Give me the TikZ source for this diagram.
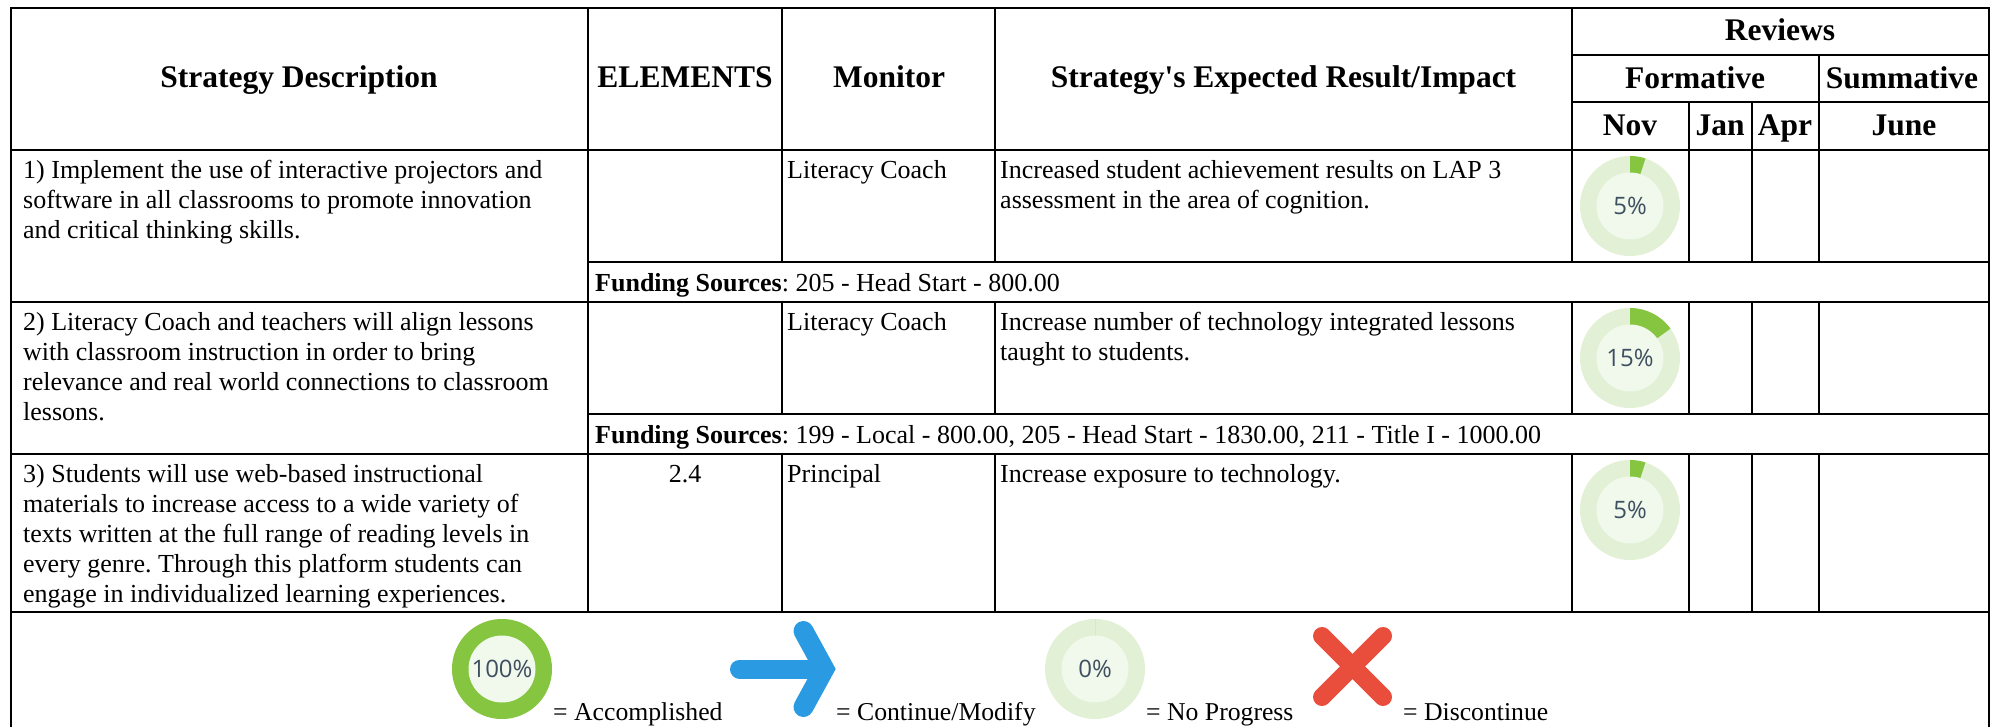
\documentclass[tikz,border=0pt]{standalone}
\usepackage{fontspec}
\setmainfont{Liberation Serif}
\newfontfamily\ringfont{Open Sans}
\frenchspacing
\definecolor{ringpale}{HTML}{E2F0D5}
\definecolor{ringcore}{HTML}{F1F8EC}
\definecolor{ringgreen}{HTML}{86C540}
\definecolor{ringtext}{HTML}{3E4F60}
\definecolor{arrowblue}{HTML}{2A9AE2}
\definecolor{crossred}{HTML}{E94E3D}
\newcommand{\ts}{\rule{0pt}{20pt}}
\tikzset{
  x=1pt,y=-1pt,
  rule/.style={line width=2.6pt,black,line cap=rect},
  body/.style={anchor=north west,inner sep=0pt,align=left,font=\fontsize{26}{30}\selectfont},
  bodyc/.style={anchor=base,inner sep=0pt,font=\fontsize{26}{30}\selectfont},
  head/.style={anchor=base,inner sep=0pt,font=\fontsize{31.5}{36}\selectfont\bfseries},
  legend/.style={anchor=base west,inner sep=0pt,font=\fontsize{25.7}{30}\selectfont},
  ringlabel/.style={inner sep=0pt,text=ringtext,font=\fontsize{24}{28}\ringfont},
}
\newcommand{\ring}[4]{% name, x, y, percent
  \fill[ringpale] (#2,#3) circle[radius=50];
  \fill[ringgreen] (#2,#3) -- ++(270:50) arc[start angle=270,delta angle=3.6*#4,radius=50] -- cycle;
  \fill[ringcore] (#2,#3) circle[radius=33.5];
  \node[ringlabel] (#1) at (#2,#3) {#4\%};
}
\begin{document}
\begin{tikzpicture}
\useasboundingbox (0,0) rectangle (1997,727);
% outer and horizontal rules
\draw[rule] (11,727) -- (11,8) -- (1989,8) -- (1989,727);
\draw[rule] (11,150) -- (1989,150);
\draw[rule] (1572,55) -- (1989,55);
\draw[rule] (1572,102) -- (1989,102);
\draw[rule] (588,262) -- (1989,262);
\draw[rule] (11,302) -- (1989,302);
\draw[rule] (588,414) -- (1989,414);
\draw[rule] (11,454) -- (1989,454);
\draw[rule] (11,612) -- (1989,612);
% vertical rules
\draw[rule] (588,8) -- (588,612);
\foreach \cx in {782,995,1572}{
  \draw[rule] (\cx,8) -- (\cx,262);
  \draw[rule] (\cx,302) -- (\cx,414);
  \draw[rule] (\cx,454) -- (\cx,612);
}
\foreach \cx in {1689,1752}{
  \draw[rule] (\cx,102) -- (\cx,262);
  \draw[rule] (\cx,302) -- (\cx,414);
  \draw[rule] (\cx,454) -- (\cx,612);
}
\draw[rule] (1819,55) -- (1819,262);
\draw[rule] (1819,302) -- (1819,414);
\draw[rule] (1819,454) -- (1819,612);
% header
\node[head] (hstrategy) at (299,88) {Strategy Description};
\node[head] (helements) at (685,88) {ELEMENTS};
\node[head] (hmonitor) at (889,88) {Monitor};
\node[head] (hresult) at (1283.5,88) {Strategy\textquotesingle s Expected Result/Impact};
\node[head] (hreviews) at (1780,41) {Reviews};
\node[head] (hformative) at (1695,89) {Formative};
\node[head] (hsummative) at (1902,89) {Summative};
\node[head] (hnov) at (1630,136) {Nov};
\node[head] (hjan) at (1720,136) {Jan};
\node[head] (hapr) at (1785,136) {Apr};
\node[head] (hjune) at (1904,136) {June};
% row 1
\node[body] (s1) at (23,158) {\ts 1) Implement the use of interactive projectors and\\software in all classrooms to promote innovation\\and critical thinking skills.};
\node[body] (m1) at (787,158) {\ts Literacy Coach};
\node[body] (r1) at (1000,158) {\ts Increased student achievement results on LAP 3\\assessment in the area of cognition.};
\ring{p1}{1630}{206}{5}
\node[body] (f1) at (595,271) {\ts\textbf{Funding Sources}: 205 - Head Start - 800.00};
% row 2
\node[body] (s2) at (23,310) {\ts 2) Literacy Coach and teachers will align lessons\\with classroom instruction in order to bring\\relevance and real world connections to classroom\\lessons.};
\node[body] (m2) at (787,310) {\ts Literacy Coach};
\node[body] (r2) at (1000,310) {\ts Increase number of technology integrated lessons\\taught to students.};
\ring{p2}{1630}{358}{15}
\node[body] (f2) at (595,423) {\ts\textbf{Funding Sources}: 199 - Local - 800.00, 205 - Head Start - 1830.00, 211 - Title I - 1000.00};
% row 3
\node[body] (s3) at (23,462) {\ts 3) Students will use web-based instructional\\materials to increase access to a wide variety of\\texts written at the full range of reading levels in\\every genre. Through this platform students can\\engage in individualized learning experiences.};
\node[bodyc] (e3) at (685,482) {2.4};
\node[body] (m3) at (787,462) {\ts Principal};
\node[body] (r3) at (1000,462) {\ts Increase exposure to technology.};
\ring{p3}{1630}{510}{5}
% legend
\ring{l1}{502}{669}{100}
\node[legend] (t1) at (553,720) {= Accomplished};
\coordinate (ashaftA) at (739.5,669);
\coordinate (ashaftB) at (820,669);
\coordinate (atop) at (803.5,631);
\coordinate (abend) at (824.3,669);
\coordinate (abot) at (803.5,707);
\draw[arrowblue,line width=19pt,line cap=round] (ashaftA) -- (ashaftB);
\draw[arrowblue,line width=20pt,line cap=round,line join=miter,miter limit=10] (atop) -- (abend) -- (abot);
\node[legend] (t2) at (836,720) {= Continue/Modify};
\ring{l2}{1095}{669}{0}
\node[legend] (t3) at (1146,720) {= No Progress};
\coordinate (xa) at (1322,636);
\coordinate (xb) at (1383,697);
\coordinate (xc) at (1322,697);
\coordinate (xd) at (1383,636);
\draw[crossred,line width=18pt,line cap=round] (xa) -- (xb);
\draw[crossred,line width=18pt,line cap=round] (xc) -- (xd);
\node[legend] (t4) at (1403,720) {= Discontinue};
\end{tikzpicture}
\end{document}
